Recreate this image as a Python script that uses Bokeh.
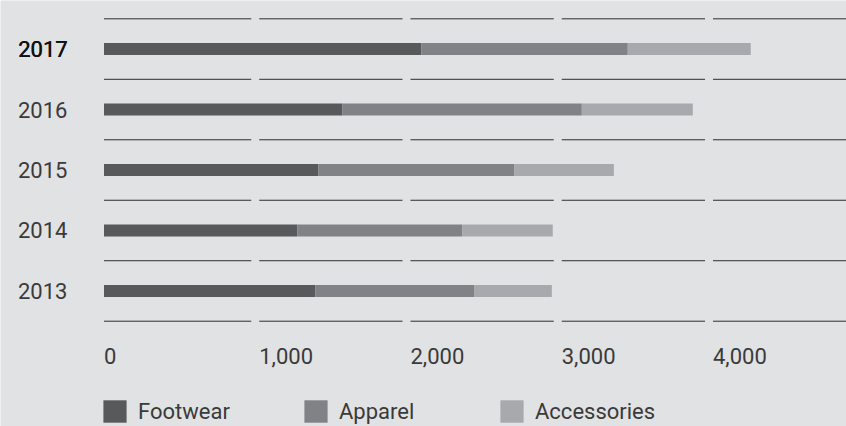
from bokeh.plotting import figure
from bokeh.models import Range1d, Legend, LegendItem, ColumnDataSource
from bokeh.core.properties import value
from bokeh.embed import file_html
from bokeh.resources import INLINE

years = [2013, 2014, 2015, 2016, 2017]
footwear = [1398, 1279, 1418, 1577, 2099]
apparel = [1052, 1091, 1296, 1582, 1364]
accessories = [511, 597, 657, 734, 813]
ticks = [0, 1000, 2000, 3000, 4000]
tick_labels = ["0", "1,000", "2,000", "3,000", "4,000"]
series = ["Footwear", "Apparel", "Accessories"]
colors = ["#58595b", "#808285", "#a7a9ac"]

BG = "#e1e2e4"
FONT = "Roboto"

X0, X1 = -684.3, 4909.1
Y0, Y1 = 2010.759, 2017.803

p = figure(width=846, height=426, output_backend="svg", toolbar_location=None,
           x_range=Range1d(X0, X1), y_range=Range1d(Y0, Y1),
           min_border=0, min_border_left=0, min_border_right=0,
           min_border_top=0, min_border_bottom=0)
p.axis.visible = False
p.grid.visible = False
p.outline_line_color = None
p.background_fill_color = BG
p.border_fill_color = BG

# grid segments between bars
gap = 26.4
gx0, gx1, gy = [], [], []
for i in range(len(years) + 1):
    yy = years[0] - 0.5 + i
    for k, t in enumerate(ticks):
        gx0.append(t + gap if t > 0 else t)
        gx1.append(ticks[k + 1] - gap if k + 1 < len(ticks) else X1)
        gy.append(yy)
p.segment(x0=gx0, y0=gy, x1=gx1, y1=gy, line_color="#2e2e2e", line_width=1)

# stacked bars
src = ColumnDataSource(dict(year=years, Footwear=footwear, Apparel=apparel, Accessories=accessories))
renderers = p.hbar_stack(series, y="year", height=0.2, color=colors, source=src, line_width=0)

# year labels
ylab_color = ["#3a3a3a"] * (len(years) - 1) + ["#111111"]
p.text(x=[0] * len(years), y=years, text=[str(y) for y in years], x_offset=-86,
       text_font=value(FONT), text_font_size="22px", text_baseline="middle",
       text_align="left", text_color=ylab_color)
# slightly heavier 2017 (medium look)
p.text(x=[0], y=[years[-1]], text=[str(years[-1])], x_offset=-85.6,
       text_font=value(FONT), text_font_size="22px", text_baseline="middle",
       text_align="left", text_color="#111111")

# tick labels
tx = [t + gap if t > 0 else t for t in ticks]
p.text(x=tx, y=[2011.933] * len(ticks), text=tick_labels, text_font=value(FONT),
       text_font_size="22px", text_baseline="middle", text_align="left", text_color="#3a3a3a")

# legend
legend_x = [100, 301, 497]
for r, name, lx in zip(renderers, series, legend_x):
    lg = Legend(items=[LegendItem(label=name, renderers=[r])], location=(lx, 1),
                orientation="horizontal", padding=0, margin=0, spacing=0,
                glyph_width=29, glyph_height=28, label_height=28, label_standoff=9,
                label_text_font=FONT, label_text_font_size="22px",
                label_text_color="#3a3a3a", label_text_baseline="middle",
                background_fill_alpha=0, border_line_alpha=0)
    p.add_layout(lg, "center")

open("out.html", "w").write(file_html(p, INLINE))
